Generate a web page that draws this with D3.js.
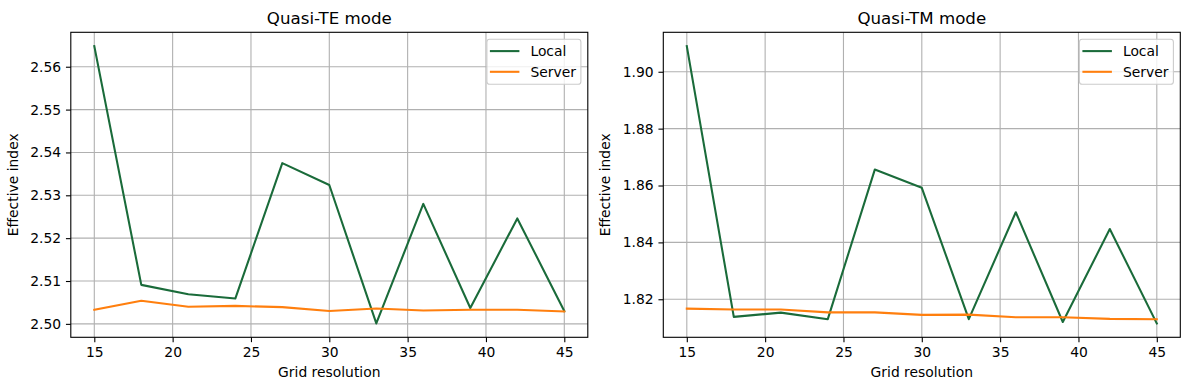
<!DOCTYPE html>
<html>
<head>
<meta charset="utf-8">
<script src="https://cdn.jsdelivr.net/npm/d3@7"></script>
<style>
  html, body { margin: 0; padding: 0; background: #fff; }
  svg { display: block; font-family: "DejaVu Sans", sans-serif; }
</style>
</head>
<body>
<svg id="chart" width="1189" height="390"></svg>
<script>
// ---- data ----
const gridRes = [15, 18, 21, 24, 27, 30, 33, 36, 39, 42, 45];
const teLocal  = [2.5648, 2.5091, 2.5069, 2.5059, 2.5375, 2.5324, 2.5001, 2.5280, 2.5037, 2.5246, 2.5030];
const teServer = [2.5033, 2.5054, 2.5040, 2.5042, 2.5039, 2.5030, 2.5036, 2.5031, 2.5033, 2.5033, 2.5029];
const tmLocal  = [1.9090, 1.8138, 1.8153, 1.8130, 1.8656, 1.8592, 1.8130, 1.8506, 1.8120, 1.8447, 1.8115];
const tmServer = [1.8167, 1.8164, 1.8164, 1.8154, 1.8154, 1.8145, 1.8146, 1.8137, 1.8137, 1.8131, 1.8130];
const xTicks = [15, 20, 25, 30, 35, 40, 45];
const teYTicks = [2.50, 2.51, 2.52, 2.53, 2.54, 2.55, 2.56];
const tmYTicks = [1.82, 1.84, 1.86, 1.88, 1.90];
const seriesNames = ["Local", "Server"];
const seriesColors = ["#1a6b3a", "#ff7f0e"];

(function () {
const panels = [
  { title: "Quasi-TE mode", local: teLocal, server: teServer, yTicks: teYTicks, left: 70.8 },
  { title: "Quasi-TM mode", local: tmLocal, server: tmServer, yTicks: tmYTicks, left: 663.3 }
];

const svg = d3.select("#chart");
const W = 517, T = 32.3, B = 337.3;
const FS = 13.89, TFS = 16.67, TICK = 4.86, PAD = 4.86;

panels.forEach(p => {
  const L = p.left, R = L + W;
  const g = svg.append("g");
  const x = d3.scaleLinear().domain([13.5, 46.5]).range([L, R]);
  const all = p.local.concat(p.server);
  const mn = d3.min(all), mx = d3.max(all), pad = (mx - mn) * 0.05;
  const y = d3.scaleLinear().domain([mn - pad, mx + pad]).range([B, T]);

  // grid
  g.append("g").selectAll("line").data(xTicks).join("line")
    .attr("x1", d => x(d)).attr("x2", d => x(d)).attr("y1", T).attr("y2", B)
    .attr("stroke", "#b0b0b0").attr("stroke-width", 1.1);
  g.append("g").selectAll("line").data(p.yTicks).join("line")
    .attr("y1", d => y(d)).attr("y2", d => y(d)).attr("x1", L).attr("x2", R)
    .attr("stroke", "#b0b0b0").attr("stroke-width", 1.1);

  // lines
  const line = d3.line().x((d, i) => x(gridRes[i])).y(d => y(d));
  [p.local, p.server].forEach((s, k) => {
    g.append("path").datum(s).attr("d", line)
      .attr("fill", "none").attr("stroke", seriesColors[k])
      .attr("stroke-width", 2.08).attr("stroke-linejoin", "round").attr("stroke-linecap", "square");
  });

  // axes
  const xa = g.append("g").attr("transform", `translate(0,${B})`)
    .call(d3.axisBottom(x).tickValues(xTicks).tickSize(TICK).tickPadding(PAD).tickSizeOuter(0).tickFormat(d3.format("d")));
  xa.select(".domain").remove();
  xa.selectAll("line").attr("stroke", "#000").attr("stroke-width", 1.1);
  xa.selectAll("text").attr("font-size", FS).attr("font-family", "DejaVu Sans").attr("fill", "#000");

  const ya = g.append("g").attr("transform", `translate(${L},0)`)
    .call(d3.axisLeft(y).tickValues(p.yTicks).tickSize(TICK).tickPadding(PAD).tickSizeOuter(0).tickFormat(d3.format(".2f")));
  ya.select(".domain").remove();
  ya.selectAll("line").attr("stroke", "#000").attr("stroke-width", 1.1);
  ya.selectAll("text").attr("font-size", FS).attr("font-family", "DejaVu Sans").attr("fill", "#000");

  // frame
  g.append("rect").attr("x", L).attr("y", T).attr("width", W).attr("height", B - T)
    .attr("fill", "none").attr("stroke", "#000").attr("stroke-width", 1.1);

  // title & labels
  g.append("text").attr("x", (L + R) / 2).attr("y", 24).attr("text-anchor", "middle")
    .attr("font-size", TFS).text(p.title);
  g.append("text").attr("x", (L + R) / 2).attr("y", 377).attr("text-anchor", "middle")
    .attr("font-size", FS).text("Grid resolution");
  g.append("text").attr("transform", `translate(${L - 53.3},${(T + B) / 2}) rotate(-90)`)
    .attr("text-anchor", "middle").attr("font-size", FS).text("Effective index");

  // legend
  const lw = 94, lh = 45;
  const lx = R - 6.9 - lw, ly = T + 7;
  const lg = g.append("g");
  lg.append("rect").attr("x", lx).attr("y", ly).attr("width", lw).attr("height", lh)
    .attr("rx", 2.8).attr("fill", "#fff").attr("fill-opacity", 0.8)
    .attr("stroke", "#cccccc").attr("stroke-width", 1.1);
  seriesNames.forEach((n, k) => {
    const cy = ly + 11.8 + k * 20.7;
    lg.append("line").attr("x1", lx + 3).attr("x2", lx + 32.5).attr("y1", cy).attr("y2", cy)
      .attr("stroke", seriesColors[k]).attr("stroke-width", 2.08);
    lg.append("text").attr("x", lx + 43.5).attr("y", cy + 5).attr("font-size", FS).text(n);
  });
});
})();
</script>
</body>
</html>
